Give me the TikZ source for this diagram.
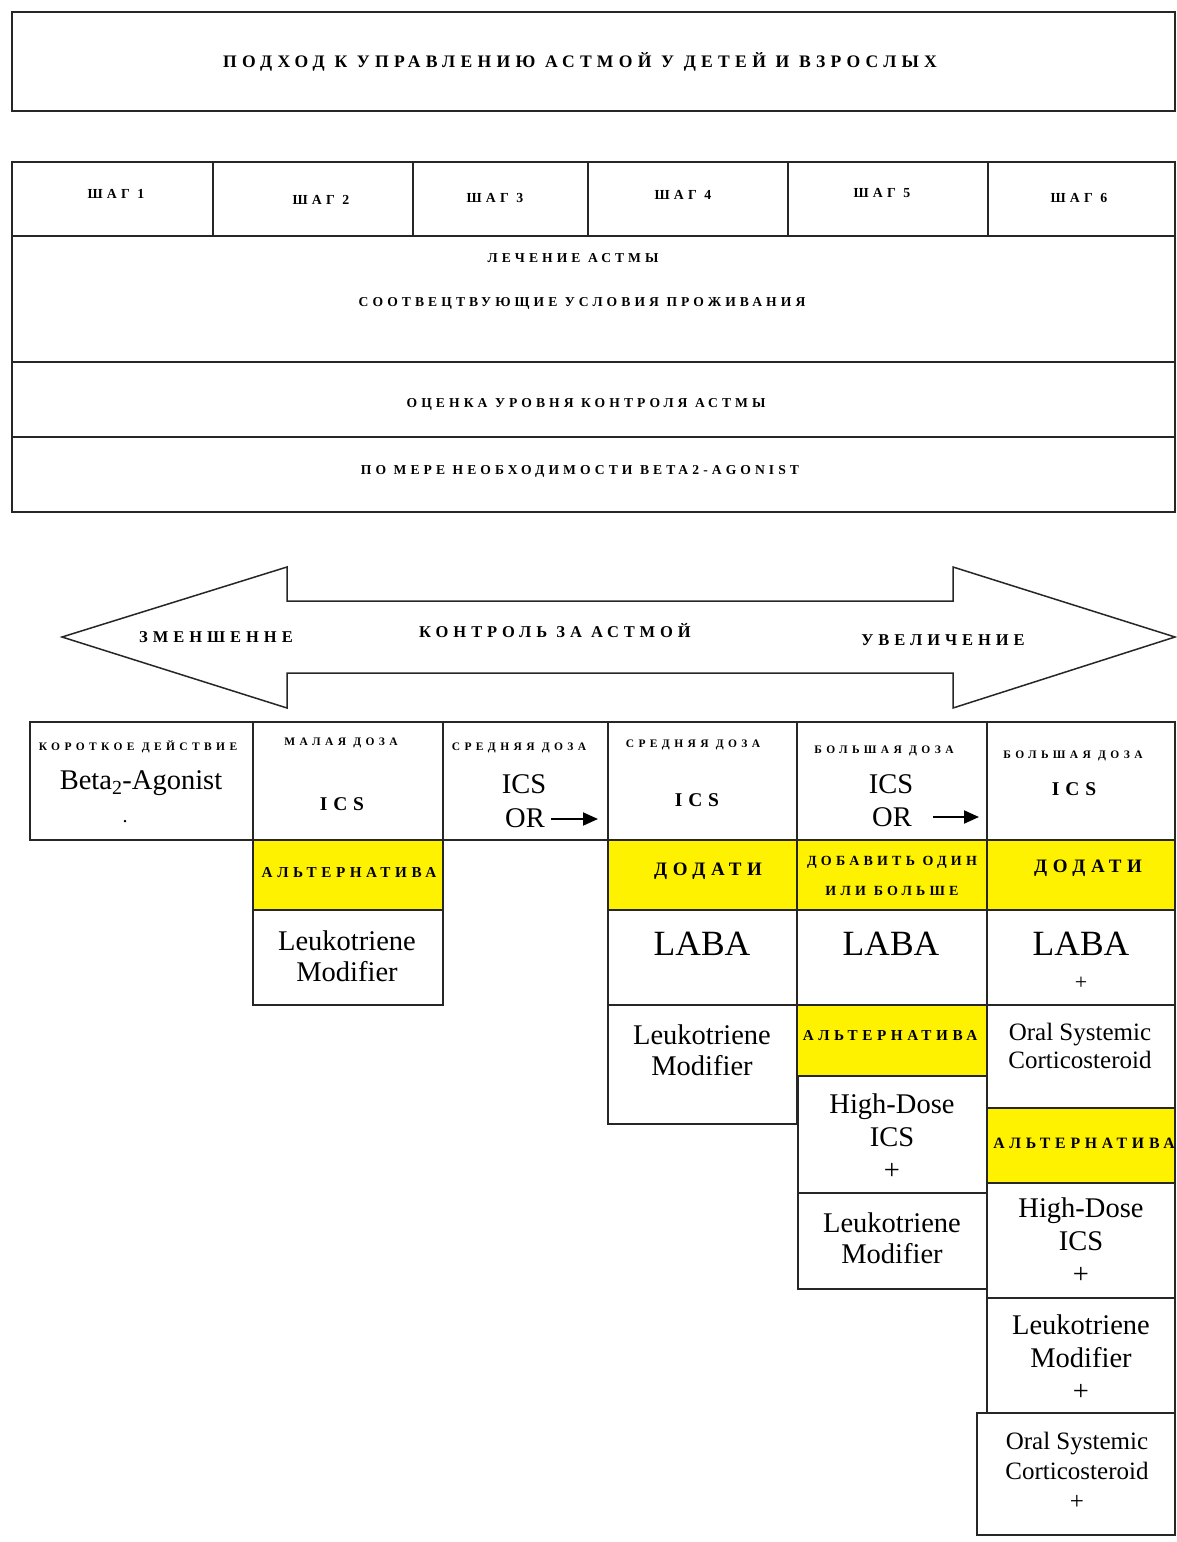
\documentclass[tikz,border=0pt]{standalone}
\usepackage{fontspec}
\setmainfont{Liberation Serif}
\newfontfamily\hdfont[LetterSpace=30]{Liberation Serif}
\newfontfamily\smfont[LetterSpace=38]{Liberation Serif}
\usetikzlibrary{arrows.meta}
\tikzset{
  box/.style={draw=black!85, line width=1.8pt},
  ybox/.style={box, fill=yellow},
  lbl/.style={inner sep=0pt, anchor=center},
  ttl/.style={lbl, font=\hdfont\bfseries\fontsize{17.6}{17.6}\selectfont},
  steplbl/.style={lbl, font=\hdfont\bfseries\fontsize{13.8}{13.8}\selectfont},
  rowlbl/.style={lbl, font=\hdfont\bfseries\fontsize{13.6}{13.6}\selectfont},
  arrlbl/.style={lbl, font=\hdfont\bfseries\fontsize{16.5}{16.5}\selectfont},
  smallhd/.style={lbl, font=\smfont\bfseries\fontsize{11.5}{11.5}\selectfont},
  midhd/.style={lbl, font=\hdfont\bfseries\fontsize{19.5}{19.5}\selectfont},
  yhd/.style={lbl, font=\hdfont\bfseries\fontsize{19}{19}\selectfont},
  yalt/.style={lbl, font=\hdfont\bfseries\fontsize{15.2}{15.2}\selectfont},
  ytwo/.style={lbl, align=center, font=\hdfont\bfseries\fontsize{14}{30}\selectfont},
  reg/.style={lbl, font=\fontsize{28.5}{28.5}\selectfont},
  drug/.style={lbl, align=center, font=\fontsize{28.5}{31}\selectfont},
  drugb/.style={lbl, align=center, font=\fontsize{28.5}{33}\selectfont},
  oral/.style={lbl, align=center, font=\fontsize{25}{28}\selectfont},
  oralb/.style={lbl, align=center, font=\fontsize{25}{30}\selectfont},
  laba/.style={lbl, font=\fontsize{35.5}{35.5}\selectfont},
  plus/.style={lbl, font=\fontsize{22}{22}\selectfont},
  orarrow/.style={line width=2pt, -{Triangle[length=15pt,width=13pt]}},
}
\begin{document}
\begin{tikzpicture}[x=1pt,y=-1pt]
\useasboundingbox (0,0) rectangle (1177,1542);
% title
\draw[box] (12,12) rectangle (1175,111);
\node[ttl] (title) at (580,62) {ПОДХОД К УПРАВЛЕНИЮ АСТМОЙ У ДЕТЕЙ И ВЗРОСЛЫХ};
% steps table
\draw[box] (12,162) rectangle (1175,512);
\draw[box] (12,236) -- (1175,236);
\draw[box] (12,362) -- (1175,362);
\draw[box] (12,437) -- (1175,437);
\foreach \x in {213,413,588,788,988} \draw[box] (\x,162) -- (\x,236);
\node[steplbl] (s1) at (116,194) {ШАГ 1};
\node[steplbl] (s2) at (321,200) {ШАГ 2};
\node[steplbl] (s3) at (495,198) {ШАГ 3};
\node[steplbl] (s4) at (683,195) {ШАГ 4};
\node[steplbl] (s5) at (882,193) {ШАГ 5};
\node[steplbl] (s6) at (1079,198) {ШАГ 6};
\node[rowlbl] (r1) at (573,258) {ЛЕЧЕНИЕ АСТМЫ};
\node[rowlbl] (r2) at (582,303) {СООТВЕЦТВУЮЩИЕ УСЛОВИЯ ПРОЖИВАНИЯ};
\node[rowlbl] (r3) at (586,404) {ОЦЕНКА УРОВНЯ КОНТРОЛЯ АСТМЫ};
\node[rowlbl] (r4) at (580,471) {ПО МЕРЕ НЕОБХОДИМОСТИ BETA2-AGONIST};
% double arrow
\draw[box, line width=1.5pt] (62,637) -- (287,567) -- (287,601) -- (953,601) -- (953,567)
  -- (1175,637) -- (953,708) -- (953,673) -- (287,673) -- (287,708) -- cycle;
\node[arrlbl] (dec) at (216,637) {ЗМЕНШЕННЕ};
\node[arrlbl] (ctl) at (555,631) {КОНТРОЛЬ ЗА АСТМОЙ};
\node[arrlbl] (inc) at (943,640) {УВЕЛИЧЕНИЕ};
% lower table row 1
\draw[box] (30,722) rectangle (253,840);
\draw[box] (253,722) rectangle (443,840);
\draw[box] (443,722) rectangle (608,840);
\draw[box] (608,722) rectangle (797,840);
\draw[box] (797,722) rectangle (987,840);
\draw[box] (987,722) rectangle (1175,840);
\node[smallhd] (h1) at (138,747) {КОРОТКОЕ ДЕЙСТВИЕ};
\node[reg] (b1) at (141,783) {Beta\textsubscript{2}-Agonist};
\node[lbl, font=\fontsize{20}{20}\selectfont] (dot1) at (125,822) {.};
\node[smallhd] (h2) at (341,743) {МАЛАЯ ДОЗА};
\node[midhd] (ics2) at (342,804) {ICS};
\node[smallhd] (h3) at (519,748) {СРЕДНЯЯ ДОЗА};
\node[reg] (ics3) at (524,784) {ICS};
\node[reg] (or3) at (525,818) {OR};
\coordinate (a3) at (598,819);
\draw[orarrow] (or3.east) ++(6,1) -- (a3);
\node[smallhd] (h4) at (693,745) {СРЕДНЯЯ ДОЗА};
\node[midhd] (ics4) at (697,800) {ICS};
\node[smallhd] (h5) at (884,751) {БОЛЬШАЯ ДОЗА};
\node[reg] (ics5) at (891,784) {ICS};
\node[reg] (or5) at (892,817) {OR};
\coordinate (a5) at (979,817);
\draw[orarrow] (933,817) -- (a5);
\node[smallhd] (h6) at (1073,756) {БОЛЬШАЯ ДОЗА};
\node[midhd] (ics6) at (1074,789) {ICS};
% yellow row
\draw[ybox] (253,840) rectangle (443,910);
\draw[ybox] (608,840) rectangle (797,910);
\draw[ybox] (797,840) rectangle (987,910);
\draw[ybox] (987,840) rectangle (1175,910);
\node[yalt] (alt2) at (349,873) {АЛЬТЕРНАТИВА};
\node[yhd] (add4) at (708,871) {ДОДАТИ};
\node[ytwo] (add5) at (892,876) {ДОБАВИТЬ ОДИН\\ИЛИ БОЛЬШЕ};
\node[yhd] (add6) at (1088,868) {ДОДАТИ};
% row 3
\draw[box] (253,910) rectangle (443,1005);
\draw[box] (608,910) rectangle (797,1005);
\draw[box] (797,910) rectangle (987,1005);
\draw[box] (987,910) rectangle (1175,1005);
\node[drug] (lm2) at (347,956) {Leukotriene\\Modifier};
\node[laba] (laba4) at (702,944) {LABA};
\node[laba] (laba5) at (891,944) {LABA};
\node[laba] (laba6) at (1081,944) {LABA};
\node[plus] (p6a) at (1081,983) {+};
% row 4
\draw[box] (608,1005) rectangle (797,1124);
\node[drug] (lm4) at (702,1050) {Leukotriene\\Modifier};
\draw[ybox] (797,1005) rectangle (987,1076);
\node[yalt] (alt5) at (890,1036) {АЛЬТЕРНАТИВА};
\draw[box] (987,1005) rectangle (1175,1108);
\node[oral] (os6) at (1080,1046) {Oral Systemic\\Corticosteroid};
% col 5 lower
\draw[box] (798,1076) rectangle (987,1193);
\node[drugb] (hd5) at (892,1137) {High-Dose\\ICS\\+};
\draw[box] (798,1193) rectangle (987,1289);
\node[drug] (lm5) at (892,1238) {Leukotriene\\Modifier};
% col 6 lower
\draw[ybox] (987,1108) rectangle (1175,1183);
\node[yalt, font=\hdfont\bfseries\fontsize{15.8}{15.8}\selectfont] (alt6) at (1084,1143) {АЛЬТЕРНАТИВА};
\draw[box] (987,1183) rectangle (1175,1298);
\node[drugb] (hd6) at (1081,1241) {High-Dose\\ICS\\+};
\draw[box] (987,1298) rectangle (1175,1413);
\node[drugb] (lm6) at (1081,1358) {Leukotriene\\Modifier\\+};
\draw[box] (977,1413) rectangle (1175,1535);
\node[oralb] (os6b) at (1077,1471) {Oral Systemic\\Corticosteroid\\+};
\end{tikzpicture}
\end{document}
